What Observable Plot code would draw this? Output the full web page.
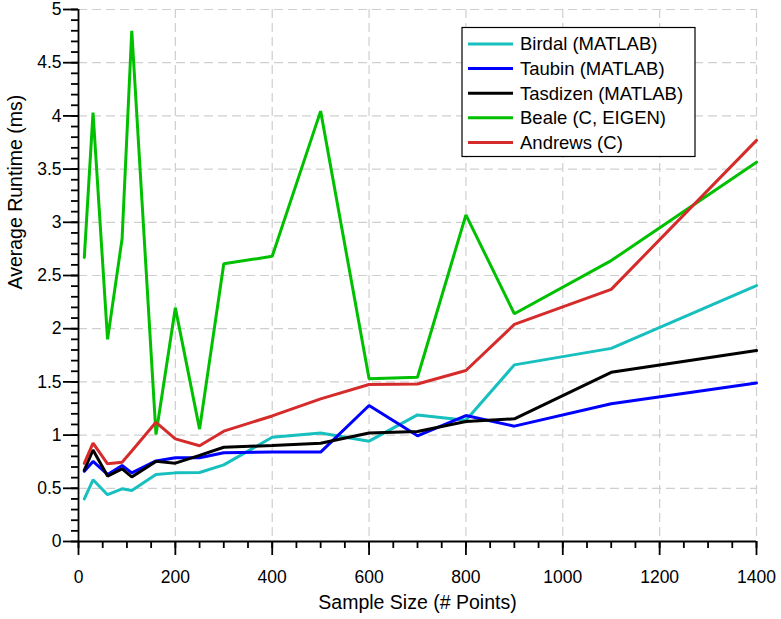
<!DOCTYPE html>
<html><head><meta charset="utf-8">
<script src="https://cdn.jsdelivr.net/npm/d3@7"></script>
<script src="https://cdn.jsdelivr.net/npm/@observablehq/plot@0.6"></script>
<style>body{margin:0;background:#fff} #chart{position:relative;width:781px}</style>
</head><body><div id="chart"></div>
<script>
const sampleSizes = [12, 30, 60, 90, 110, 160, 200, 250, 300, 400, 500, 600, 700, 800, 900, 1100, 1400];
const seriesNames = ["Birdal (MATLAB)", "Taubin (MATLAB)", "Tasdizen (MATLAB)", "Beale (C, EIGEN)", "Andrews (C)"];
const birdal   = [0.40, 0.58, 0.44, 0.495, 0.48, 0.63, 0.645, 0.648, 0.72, 0.98, 1.02, 0.943, 1.19, 1.14, 1.66, 1.815, 2.405];
const taubin   = [0.66, 0.752, 0.63, 0.714, 0.645, 0.757, 0.787, 0.787, 0.834, 0.84, 0.84, 1.278, 0.993, 1.184, 1.084, 1.294, 1.49];
const tasdizen = [0.67, 0.86, 0.615, 0.683, 0.607, 0.753, 0.736, 0.81, 0.886, 0.902, 0.924, 1.02, 1.034, 1.128, 1.153, 1.59, 1.795];
const beale    = [2.67, 4.03, 1.9, 2.845, 4.8, 1.006, 2.196, 1.056, 2.61, 2.68, 4.045, 1.529, 1.544, 3.07, 2.14, 2.64, 3.565];
const andrews  = [0.735, 0.925, 0.73, 0.745, 0.85, 1.12, 0.965, 0.90, 1.037, 1.18, 1.34, 1.475, 1.48, 1.607, 2.04, 2.37, 3.77];
const xMajorTicks = [0, 200, 400, 600, 800, 1000, 1200, 1400];
const yMajorTicks = [0, 0.5, 1, 1.5, 2, 2.5, 3, 3.5, 4, 4.5, 5];
const xLabel = "Sample Size (# Points)";
const yLabel = "Average Runtime (ms)";

const seriesValues = [birdal, taubin, tasdizen, beale, andrews];
const colors = ["#17bfbf", "#0000ff", "#000000", "#00c000", "#d62b2b"];
const xMinorTicks = d3.range(0, 1401, 50);
const yMinorTicks = d3.range(0, 51).map(d => d / 10);

const data = [];
seriesNames.forEach((name, i) => sampleSizes.forEach((x, j) => data.push({series: name, x, y: seriesValues[i][j]})));

const font = "'Liberation Sans', Arial, Helvetica, sans-serif";
const gridStyle = {stroke: "#cfcfcf", strokeOpacity: 1, strokeWidth: 1.2, strokeDasharray: "9,5"};

const plot = Plot.plot({
  width: 781, height: 619,
  marginLeft: 78, marginRight: 25, marginTop: 9, marginBottom: 78,
  style: {fontFamily: font, fontSize: "17.5px", color: "#000", background: "#fff", overflow: "visible"},
  x: {domain: [0, 1400]},
  y: {domain: [0, 5]},
  color: {domain: seriesNames, range: colors},
  marks: [
    Plot.gridX(xMajorTicks, gridStyle),
    Plot.gridY(yMajorTicks, gridStyle),
    Plot.axisX(xMinorTicks, {tickSize: 7, tickFormat: () => "", label: null, stroke: "#000", strokeOpacity: 1, strokeWidth: 1.8}),
    Plot.axisX(xMajorTicks, {tickSize: 14, tickPadding: 15, label: null, stroke: "#000", strokeOpacity: 1, strokeWidth: 1.8, tickFormat: d => String(d)}),
    Plot.axisY(yMinorTicks, {tickSize: 7, tickFormat: () => "", label: null, stroke: "#000", strokeOpacity: 1, strokeWidth: 1.8}),
    Plot.axisY(yMajorTicks, {tickSize: 15, tickPadding: 2, label: null, stroke: "#000", strokeOpacity: 1, strokeWidth: 1.8, tickFormat: d => String(d)}),
    Plot.ruleX([0], {stroke: "#000", strokeWidth: 1.8}),
    Plot.ruleY([0], {stroke: "#000", strokeWidth: 1.8}),
    Plot.line(data, {x: "x", y: "y", z: "series", stroke: "series", strokeWidth: 3, strokeLinejoin: "miter"}),
    Plot.text([xLabel], {frameAnchor: "bottom", dy: 67, fontSize: 19.5, text: d => d}),
    Plot.text([yLabel], {frameAnchor: "left", dx: -63, dy: 14, rotate: -90, fontSize: 19.5, text: d => d})
  ]
});
document.getElementById("chart").appendChild(plot);

// legend inside plot area (top right)
const svg = d3.select(plot);
const lg = svg.append("g").attr("font-family", font).attr("font-size", "18.5px").attr("text-anchor", "start");
lg.append("rect").attr("x", 462).attr("y", 27.5).attr("width", 233).attr("height", 129)
  .attr("fill", "#fff").attr("stroke", "#000").attr("stroke-width", 1.2);
seriesNames.forEach((name, i) => {
  const cy = 44 + i * 24.6;
  lg.append("line").attr("x1", 468).attr("x2", 513).attr("y1", cy).attr("y2", cy)
    .attr("stroke", colors[i]).attr("stroke-width", 3);
  lg.append("text").attr("x", 520).attr("y", cy).attr("dy", "0.35em").attr("fill", "#000")
    .attr("text-anchor", "start").text(name);
});
</script>
</body></html>
